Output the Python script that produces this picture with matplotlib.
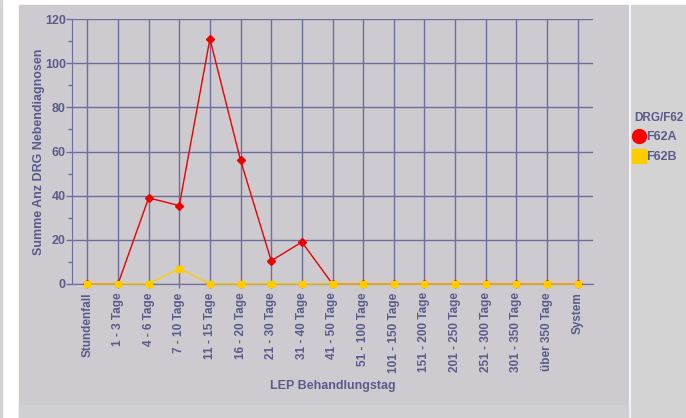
import numpy as np
import matplotlib
matplotlib.use("Agg")
import matplotlib.pyplot as plt
from matplotlib.patches import Rectangle
from matplotlib.lines import Line2D

categories = ["Stundenfall", "1 - 3 Tage", "4 - 6 Tage", "7 - 10 Tage", "11 - 15 Tage",
              "16 - 20 Tage", "21 - 30 Tage", "31 - 40 Tage", "41 - 50 Tage",
              "51 - 100 Tage", "101 - 150 Tage", "151 - 200 Tage", "201 - 250 Tage",
              "251 - 300 Tage", "301 - 350 Tage", "über 350 Tage", "System"]
f62a = [0, 0, 39, 35.5, 111, 56, 10.5, 19, 0, 0, 0, 0, 0, 0, 0, 0, 0]
f62b = [0, 0, 0, 7, 0, 0, 0, 0, 0, 0, 0, 0, 0, 0, 0, 0, 0]

txt = "#5b5b8c"
grid = "#6e6e9e"
plt.rcParams['font.family'] = ['Liberation Sans', 'DejaVu Sans']
plt.rcParams['font.weight'] = 'bold'

fig = plt.figure(figsize=(6.86, 4.18), dpi=100)
fig.patch.set_facecolor("white")
W, H = 686, 418
fig.patches.append(Rectangle((0, 0), 2 / W, 1, transform=fig.transFigure, color="#d4d4d4", zorder=0))
fig.patches.append(Rectangle((19 / W, 0), (628 - 19) / W, (418 - 5) / H, transform=fig.transFigure,
                             color="#cdcbcf", zorder=0))
fig.patches.append(Rectangle((19 / W, 0), (628 - 19) / W, 13 / H, transform=fig.transFigure,
                             color="#d0cfd1", zorder=0))
fig.patches.append(Rectangle((631 / W, 0), (686 - 631) / W, (418 - 5) / H, transform=fig.transFigure,
                             color="#d3d3d3", zorder=0))

ax = fig.add_axes([72 / W, 1 - 284 / H, (593 - 72) / W, (284 - 19) / H])
ax.set_zorder(2)
ax.set_facecolor("#cdcbcf")
x = np.arange(len(categories))

ax.plot(x, f62a, color="#ee0000", lw=1, marker="D", ms=4, zorder=3)
ax.plot(x, f62b, color="#ffcc00", lw=1, marker="s", ms=5, zorder=4, clip_on=False)

ax.set_xlim(-0.5, len(categories) - 0.5)
ax.set_ylim(0, 120)
ax.set_yticks(range(0, 121, 20))
ax.set_yticks(range(10, 120, 20), minor=True)
ax.set_xticks(x)
ax.set_xticklabels(categories, rotation=90, fontsize=8.5, color=txt, fontweight="bold")
ax.set_yticklabels([str(v) for v in range(0, 121, 20)], fontsize=9, color=txt, fontweight="bold")
ax.tick_params(axis="y", color=grid, length=4, width=1, pad=0.5)
ax.tick_params(axis="y", which="minor", color=grid, length=3, width=1)
ax.tick_params(axis="x", color=grid, length=3, width=1, pad=3)
ax.grid(True, color=grid, lw=1)
ax.set_axisbelow(True)
for s in ["top", "right"]:
    ax.spines[s].set_visible(False)
for s in ["left", "bottom"]:
    ax.spines[s].set_color(grid)

ax.set_ylabel("Summe Anz DRG Nebendiagnosen", fontsize=9, color=txt, fontweight="bold", labelpad=0)
ax.set_xlabel("LEP Behandlungstag", fontsize=9, color=txt, fontweight="bold", labelpad=5)

handles = [Line2D([], [], color="red", marker="o", ms=10, ls="none"),
           Line2D([], [], color="#ffcc00", marker="s", ms=10, ls="none")]
leg = fig.legend(handles, ["F62A", "F62B"], title="DRG/F62", loc="upper left",
                 bbox_to_anchor=(634 / W, 1 - 112 / H), frameon=False, fontsize=9,
                 title_fontsize=8.5, handlelength=0.8, handletextpad=0.2, labelspacing=0.6,
                 borderaxespad=0, borderpad=0, alignment="left")
for t in leg.get_texts():
    t.set_color(txt)
    t.set_fontweight("bold")
leg.get_title().set_color(txt)
leg.get_title().set_fontweight("bold")

fig.savefig("out.png", dpi=100)
